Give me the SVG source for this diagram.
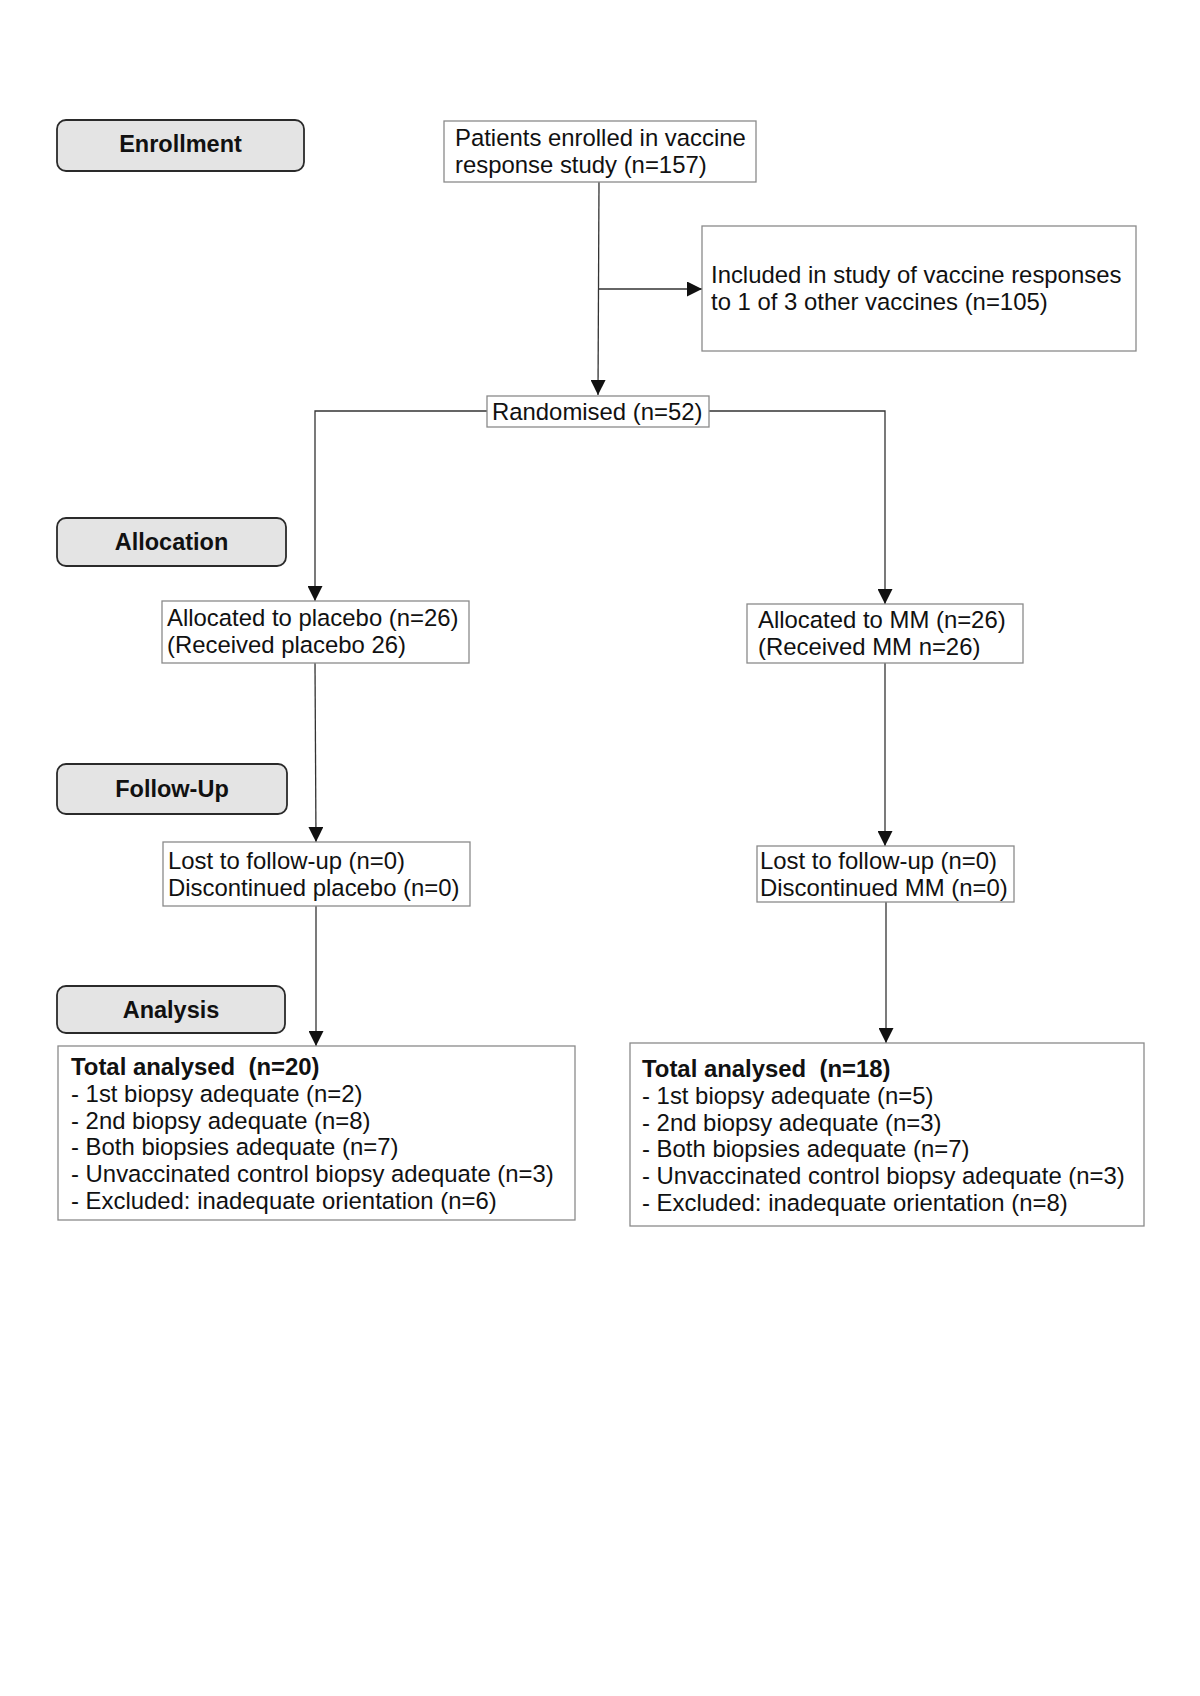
<svg xmlns="http://www.w3.org/2000/svg" width="1200" height="1696" viewBox="0 0 1200 1696">
<style>
text{font-family:"Liberation Sans",Arial,Helvetica,sans-serif;font-size:23.9px;fill:#111}
.stage rect{fill:#e4e4e4;stroke:#2a2a2a;stroke-width:1.8}
.stage text{font-weight:bold;text-anchor:middle;font-size:23.5px}
.box rect{fill:#fff;stroke:#8a8a8a;stroke-width:1.3}
.b{font-weight:bold}
#connectors path{fill:none;stroke:#333;stroke-width:1.3}
</style>
<defs>
<marker id="arr" markerUnits="userSpaceOnUse" markerWidth="15" markerHeight="15" refX="15" refY="7.5" orient="auto">
<path d="M0,0 L15,7.5 L0,15 z" fill="#111"/>
</marker>
</defs>
<rect width="1200" height="1696" fill="#fff"/>

<g id="stage-enrollment" class="stage"><rect x="57" y="120" width="247" height="51" rx="9"/><text x="180.5" y="152">Enrollment</text></g>
<g id="stage-allocation" class="stage"><rect x="57" y="518" width="229" height="48" rx="9"/><text x="171.5" y="550">Allocation</text></g>
<g id="stage-followup" class="stage"><rect x="57" y="764" width="230" height="50" rx="9"/><text x="172" y="797">Follow-Up</text></g>
<g id="stage-analysis" class="stage"><rect x="57" y="986" width="228" height="47" rx="9"/><text x="171" y="1018">Analysis</text></g>

<g id="connectors">
<path d="M599,182 L598,395" marker-end="url(#arr)"/>
<path d="M599,289 L702,289" marker-end="url(#arr)"/>
<path d="M487,411 L315,411 L315,601" marker-end="url(#arr)"/>
<path d="M709,411 L885,411 L885,604" marker-end="url(#arr)"/>
<path d="M315,663 L316,842" marker-end="url(#arr)"/>
<path d="M885,663 L885,846" marker-end="url(#arr)"/>
<path d="M316,906 L316,1046" marker-end="url(#arr)"/>
<path d="M886,902 L886,1043" marker-end="url(#arr)"/>
</g>

<g id="enrolled" class="box"><rect x="444" y="121" width="312" height="61"/><text x="455" y="146">Patients enrolled in vaccine</text><text x="455" y="173">response study (n=157)</text></g>
<g id="other-vaccines" class="box"><rect x="702" y="226" width="434" height="125"/><text x="711" y="283">Included in study of vaccine responses</text><text x="711" y="310">to 1 of 3 other vaccines (n=105)</text></g>
<g id="randomised" class="box"><rect x="487" y="396" width="222" height="31"/><text x="492" y="420">Randomised (n=52)</text></g>
<g id="alloc-placebo" class="box"><rect x="162" y="601" width="307" height="62"/><text x="167" y="626">Allocated to placebo (n=26)</text><text x="167" y="653">(Received placebo 26)</text></g>
<g id="alloc-mm" class="box"><rect x="747" y="604" width="276" height="59"/><text x="758" y="628">Allocated to MM (n=26)</text><text x="758" y="655">(Received MM n=26)</text></g>
<g id="follow-placebo" class="box"><rect x="163" y="842" width="307" height="64"/><text x="168" y="869">Lost to follow-up (n=0)</text><text x="168" y="896">Discontinued placebo (n=0)</text></g>
<g id="follow-mm" class="box"><rect x="757" y="846" width="257" height="56"/><text x="760" y="869">Lost to follow-up (n=0)</text><text x="760" y="896">Discontinued MM (n=0)</text></g>
<g id="analysis-placebo" class="box"><rect x="58" y="1046" width="517" height="174"/>
<text x="71" y="1075" class="b">Total analysed&#160; (n=20)</text>
<text x="71" y="1102">- 1st biopsy adequate (n=2)</text>
<text x="71" y="1129">- 2nd biopsy adequate (n=8)</text>
<text x="71" y="1155">- Both biopsies adequate (n=7)</text>
<text x="71" y="1182">- Unvaccinated control biopsy adequate (n=3)</text>
<text x="71" y="1209">- Excluded: inadequate orientation (n=6)</text></g>
<g id="analysis-mm" class="box"><rect x="630" y="1043" width="514" height="183"/>
<text x="642" y="1077" class="b">Total analysed&#160; (n=18)</text>
<text x="642" y="1104">- 1st biopsy adequate (n=5)</text>
<text x="642" y="1131">- 2nd biopsy adequate (n=3)</text>
<text x="642" y="1157">- Both biopsies adequate (n=7)</text>
<text x="642" y="1184">- Unvaccinated control biopsy adequate (n=3)</text>
<text x="642" y="1211">- Excluded: inadequate orientation (n=8)</text></g>
</svg>
